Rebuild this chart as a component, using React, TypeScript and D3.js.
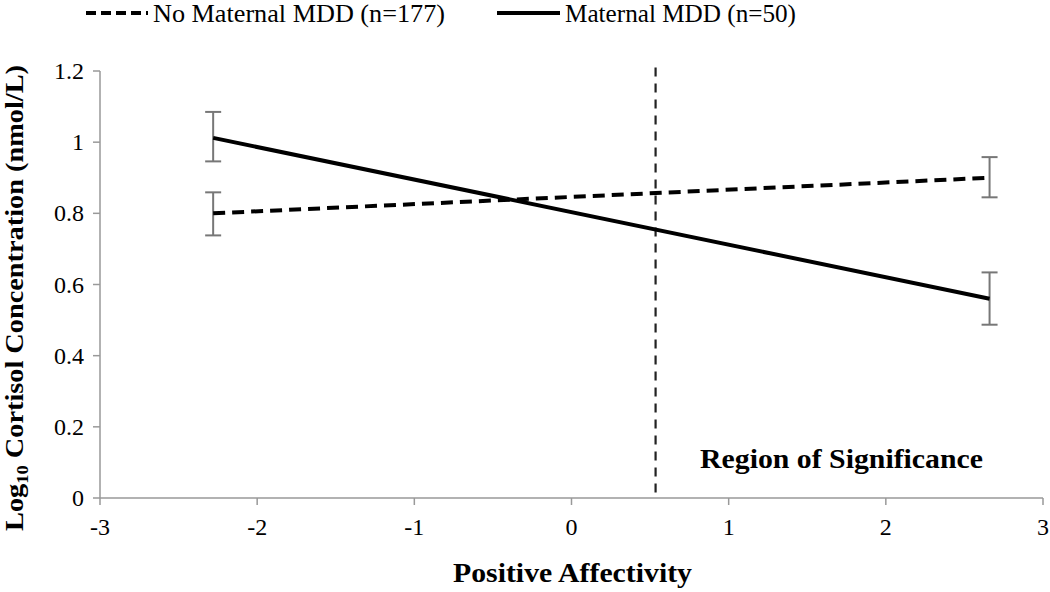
import React from "react";
import * as d3 from "d3";

const xTicks = [-3, -2, -1, 0, 1, 2, 3];
const yTicks = [0, 0.2, 0.4, 0.6, 0.8, 1, 1.2];
const pointX = [-2.28, 2.66];
const noMddMean = [0.8, 0.9];
const noMddLo = [0.738, 0.845];
const noMddHi = [0.859, 0.958];
const mddMean = [1.012, 0.56];
const mddLo = [0.946, 0.487];
const mddHi = [1.085, 0.634];
const significanceX = 0.535;
const significanceTop = 1.21;

const W = 1050;
const H = 592;
const serif = "'Liberation Serif', 'Times New Roman', serif";

export default function App() {
  const x = d3.scaleLinear().domain([-3, 3]).range([100, 1043]);
  const y = d3.scaleLinear().domain([0, 1.2]).range([498, 71]);
  const line = d3
    .line<number>()
    .x((_, i) => x(pointX[i]))
    .y((d) => y(d));

  const series = [
    { mean: noMddMean, lo: noMddLo, hi: noMddHi, dash: "12,7" },
    { mean: mddMean, lo: mddLo, hi: mddHi, dash: undefined as string | undefined },
  ];

  return (
    <svg
      width={W}
      height={H}
      style={{ position: "absolute", left: 0, top: 0, background: "#fff" }}
      fontFamily={serif}
    >
      {/* legend */}
      <line x1={86} x2={148} y1={13} y2={13} stroke="#000" strokeWidth={4} strokeDasharray="10,5" />
      <text x={153} y={22} fontSize={26} textLength={292} lengthAdjust="spacingAndGlyphs">
        No Maternal MDD (n=177)
      </text>
      <line x1={497} x2={560} y1={13} y2={13} stroke="#000" strokeWidth={4} />
      <text x={565} y={22} fontSize={26} textLength={231} lengthAdjust="spacingAndGlyphs">
        Maternal MDD (n=50)
      </text>

      {/* axes */}
      <line x1={x(-3)} x2={x(3)} y1={y(0)} y2={y(0)} stroke="#999" strokeWidth={1.5} />
      <line x1={x(-3)} x2={x(-3)} y1={y(0)} y2={y(1.2)} stroke="#999" strokeWidth={1.5} />
      {yTicks.map((t) => (
        <g key={"y" + t}>
          <line x1={x(-3) - 7} x2={x(-3)} y1={y(t)} y2={y(t)} stroke="#999" strokeWidth={1.5} />
          <text x={84} y={y(t) + 8} fontSize={24} textAnchor="end">
            {String(t)}
          </text>
        </g>
      ))}
      {xTicks.map((t) => (
        <g key={"x" + t}>
          <line x1={x(t)} x2={x(t)} y1={y(0)} y2={y(0) + 7} stroke="#999" strokeWidth={1.5} />
          <text x={x(t)} y={535} fontSize={24} textAnchor="middle">
            {String(t)}
          </text>
        </g>
      ))}

      {/* region of significance boundary */}
      <line
        x1={x(significanceX)}
        x2={x(significanceX)}
        y1={y(significanceTop)}
        y2={y(0)}
        stroke="#222"
        strokeWidth={2.2}
        strokeDasharray="9,7"
      />
      <text x={700} y={468} fontSize={28} fontWeight="bold" textLength={283} lengthAdjust="spacingAndGlyphs">
        Region of Significance
      </text>

      {/* error bars */}
      {series.map((s, si) =>
        pointX.map((px, i) => (
          <g key={"e" + si + i} stroke="#777" strokeWidth={2}>
            <line x1={x(px)} x2={x(px)} y1={y(s.lo[i])} y2={y(s.hi[i])} />
            <line x1={x(px) - 8} x2={x(px) + 8} y1={y(s.lo[i])} y2={y(s.lo[i])} />
            <line x1={x(px) - 8} x2={x(px) + 8} y1={y(s.hi[i])} y2={y(s.hi[i])} />
          </g>
        ))
      )}

      {/* lines */}
      {series.map((s, si) => (
        <path
          key={"l" + si}
          d={line(s.mean) || ""}
          fill="none"
          stroke="#000"
          strokeWidth={4}
          strokeDasharray={s.dash}
        />
      ))}

      {/* axis titles */}
      <text x={453} y={582} fontSize={27} fontWeight="bold" textLength={239} lengthAdjust="spacingAndGlyphs">
        Positive Affectivity
      </text>
      <text
        transform={`translate(23, 531) rotate(-90)`}
        fontSize={26}
        fontWeight="bold"
        textLength={466}
        lengthAdjust="spacingAndGlyphs"
      >
        Log<tspan fontSize={17} dy={5}>10</tspan>
        <tspan dy={-5}> Cortisol Concentration (nmol/L)</tspan>
      </text>
    </svg>
  );
}
